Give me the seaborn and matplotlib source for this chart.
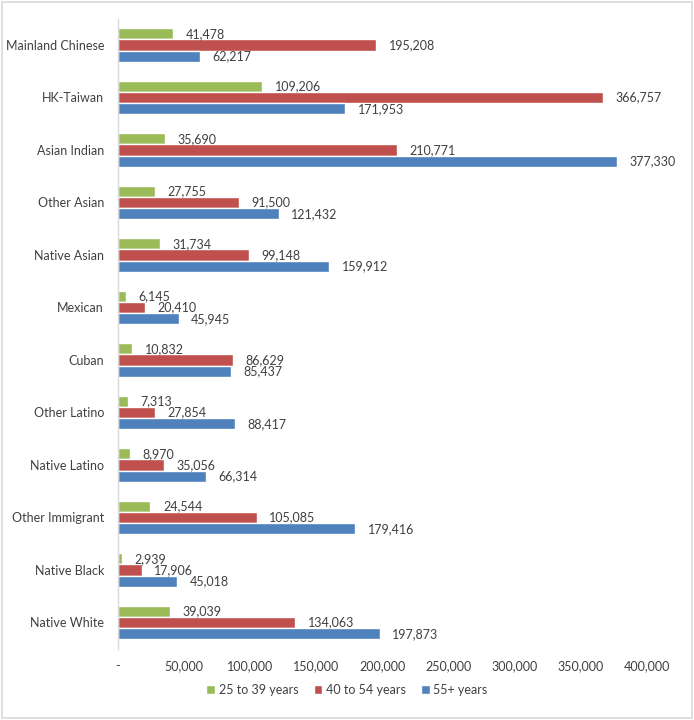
import matplotlib
matplotlib.use("Agg")
import matplotlib.pyplot as plt
import seaborn as sns
import pandas as pd
from matplotlib.patches import Rectangle
from matplotlib.ticker import FuncFormatter

categories = ["Mainland Chinese", "HK-Taiwan", "Asian Indian", "Other Asian", "Native Asian",
              "Mexican", "Cuban", "Other Latino", "Native Latino", "Other Immigrant",
              "Native Black", "Native White"]
series = ["25 to 39 years", "40 to 54 years", "55+ years"]
age_25_39 = [41478, 109206, 35690, 27755, 31734, 6145, 10832, 7313, 8970, 24544, 2939, 39039]
age_40_54 = [195208, 366757, 210771, 91500, 99148, 20410, 86629, 27854, 35056, 105085, 17906, 134063]
age_55_plus = [62217, 171953, 377330, 121432, 159912, 45945, 85437, 88417, 66314, 179416, 45018, 197873]
colors = ["#9BBB59", "#C0504D", "#4F81BD"]

rows = []
for s, vals in zip(series, [age_25_39, age_40_54, age_55_plus]):
    for c, v in zip(categories, vals):
        rows.append({"category": c, "series": s, "value": v})
df = pd.DataFrame(rows)

sns.set_style("white")
plt.rcParams["font.family"] = ["Lato", "DejaVu Sans"]

fig = plt.figure(figsize=(6.94, 7.2), dpi=100)
ax = fig.add_axes([0.170, 0.099, 0.762, 0.875])

sns.barplot(data=df, y="category", x="value", hue="series", order=categories,
            hue_order=series, palette=colors, orient="h", width=0.64,
            saturation=1, ax=ax, legend=True)

for cont in ax.containers:
    ax.bar_label(cont, labels=[f"{int(b.get_width()):,}" for b in cont],
                 padding=9, fontsize=9, color="#404040")

ax.set_xlim(0, 400000)
ax.set_xticks(range(0, 400001, 50000))
ax.xaxis.set_major_formatter(FuncFormatter(lambda v, p: "-" if v == 0 else f"{int(v):,}"))
ax.tick_params(axis="both", length=0, labelsize=9, colors="#404040")
ax.tick_params(axis="x", pad=8)
ax.tick_params(axis="y", pad=10)
ax.set_xlabel("")
ax.set_ylabel("")
for s in ["top", "right", "bottom"]:
    ax.spines[s].set_visible(False)
ax.spines["left"].set_color("#D9D9D9")
ax.spines["left"].set_linewidth(1)

handles, labels = ax.get_legend_handles_labels()
ax.legend_.remove()
fig.legend(handles, labels, loc="center", bbox_to_anchor=(0.5, 0.042), ncol=3,
           frameon=False, fontsize=9, handlelength=0.7, handleheight=0.7,
           handletextpad=0.3, columnspacing=1.2, labelcolor="#404040")

fig.patches.append(Rectangle((0.003, 0.003), 0.994, 0.994, transform=fig.transFigure,
                             fill=False, edgecolor="#D9D9D9", linewidth=1.2))

fig.savefig("out.png", dpi=100)
